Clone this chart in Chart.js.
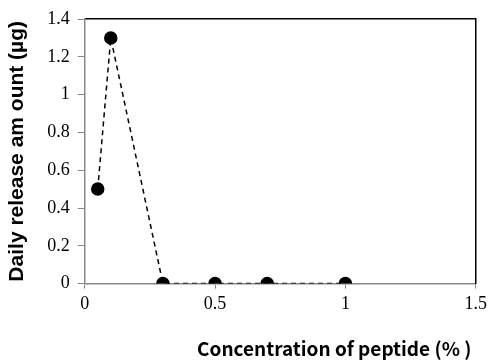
<!DOCTYPE html>
<html>
<head>
<meta charset="utf-8">
<script src="https://cdn.jsdelivr.net/npm/chart.js@4.4.8/dist/chart.umd.min.js"></script>
<style>
  html, body { margin: 0; padding: 0; background: #fff; }
  #wrap { width: 492px; height: 360px; }
</style>
</head>
<body>
<div id="wrap"><canvas id="c"></canvas></div>
<script>
// concentration of peptide (%) and daily release amount (µg)
const concentration = [0.05, 0.1, 0.3, 0.5, 0.7, 1.0];
const releaseAmount = [0.5, 1.3, 0, 0, 0, 0];
const xTitle = 'Concentration of peptide (% ) ';
const yTitle = 'Daily release am ount (µg)';

const points = concentration.map((x, i) => ({ x: x, y: releaseAmount[i] }));
const tickFont = { family: 'Liberation Serif', size: 18 };
const xTitleFont = { family: 'Noto Sans CJK JP', size: 19, weight: 'bold' };
const yTitleFont = { family: 'Liberation Sans', size: 21, weight: 'bold' };
const plainNum = v => String(Math.round(v * 10) / 10);

new Chart(document.getElementById('c'), {
  type: 'scatter',
  data: {
    datasets: [{
      data: points,
      showLine: true,
      borderColor: '#000',
      borderWidth: 1.5,
      borderDash: [5, 4],
      pointBackgroundColor: '#000',
      pointBorderColor: '#000',
      pointRadius: 6,
      pointHoverRadius: 6
    }]
  },
  options: {
    responsive: true,
    maintainAspectRatio: false,
    animation: false,
    layout: { padding: { top: 11, right: 8, left: 5, bottom: 0 } },
    plugins: { legend: { display: false }, tooltip: { enabled: false } },
    scales: {
      x: {
        type: 'linear', min: 0, max: 1.5,
        ticks: { stepSize: 0.5, color: '#000', font: tickFont, padding: 5, callback: plainNum },
        grid: { drawOnChartArea: false, drawTicks: true, tickLength: 5, color: '#888' },
        border: { color: '#888', width: 1.5 },
        title: { display: true, text: xTitle, color: '#000', font: xTitleFont, align: 'end', padding: { top: 17, bottom: 0 } }
      },
      x2: {
        type: 'linear', position: 'top', min: 0, max: 1.5,
        ticks: { display: false },
        grid: { display: false },
        border: { color: '#000', width: 1.5 }
      },
      y: {
        min: 0, max: 1.4,
        ticks: { stepSize: 0.2, color: '#000', font: tickFont, padding: 8, callback: plainNum },
        grid: { drawOnChartArea: false, drawTicks: true, tickLength: 7, color: '#888' },
        border: { color: '#888', width: 1.5 },
        title: { display: true, text: yTitle, color: '#000', font: yTitleFont, padding: { top: 0, bottom: 9 } }
      },
      y2: {
        position: 'right', min: 0, max: 1.4,
        ticks: { display: false },
        grid: { display: false },
        border: { color: '#000', width: 1.5 }
      }
    }
  }
});
</script>
</body>
</html>
